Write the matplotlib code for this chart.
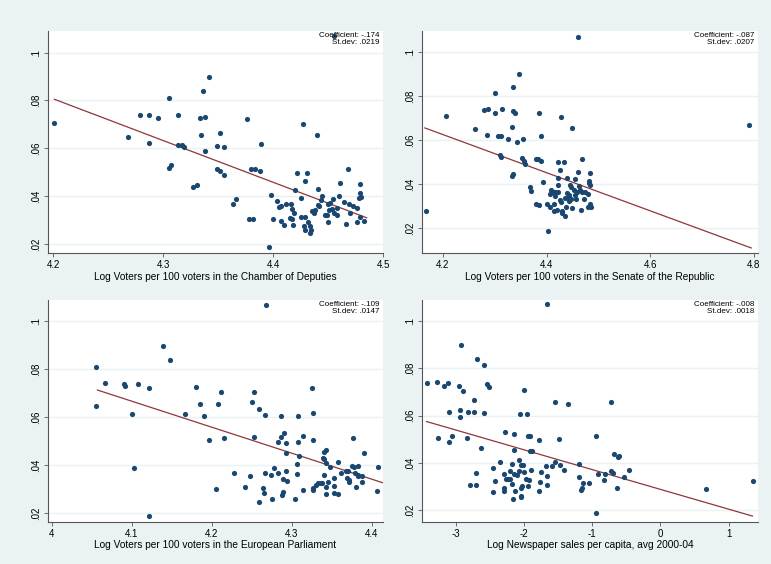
import matplotlib
matplotlib.use("Agg")
import matplotlib.pyplot as plt
import numpy as np

# Panel 1: Chamber of Deputies
x1 = [4.201,4.268,4.279,4.287,4.287,4.295,4.305,4.305,4.307,4.313,4.313,4.317,4.319,4.327,4.331,4.333,4.334,4.336,4.338,4.338,4.342,4.349,4.349,4.352,4.352,4.355,4.355,4.363,4.366,4.376,4.378,4.382,4.38,4.383,4.388,4.389,4.396,4.398,4.400,4.403,4.405,4.407,4.407,4.41,4.412,4.416,4.415,4.417,4.417,4.419,4.418,4.420,4.422,4.425,4.425,4.427,4.428,4.429,4.429,4.429,4.431,4.432,4.433,4.434,4.433,4.435,4.437,4.438,4.440,4.441,4.441,4.442,4.443,4.444,4.447,4.449,4.45,4.452,4.454,4.45,4.451,4.453,4.455,4.458,4.458,4.46,4.461,4.464,4.469,4.466,4.468,4.470,4.473,4.476,4.476,4.478,4.479,4.479,4.48,4.479,4.483,4.455]
y1 = [.0707,.0647,.0738,.074,.0623,.0725,.081,.052,.053,.0613,.0739,.0613,.0605,.0438,.0449,.0725,.0655,.0838,.073,.059,.09,.0608,.0515,.0505,.0666,.049,.0605,.0368,.0389,.0721,.0307,.0303,.0515,.0515,.0504,.0618,.0188,.0406,.0305,.0379,.0354,.0359,.0296,.0278,.0368,.0368,.0309,.0305,.0347,.033,.0281,.0425,.0499,.0391,.0315,.0703,.0277,.026,.0462,.0315,.0497,.0292,.0277,.026,.0246,.0337,.033,.0344,.0654,.0430,.0365,.0358,.0386,.0402,.0323,.0323,.0366,.0372,.039,.0291,.0344,.0347,.033,.0323,.0352,.04,.0454,.0375,.0369,.0285,.0513,.033,.0358,.0351,.0291,.0391,.0414,.045,.0397,.0312,.0296,.107]
fit1_x = [4.201, 4.485]
fit1_y = [.0805, .031]

# Panel 2: Senate
x2 = [4.168,4.205,4.261,4.28,4.287,4.285,4.3,4.3,4.307,4.312,4.310,4.312,4.313,4.325,4.333,4.333,4.335,4.336,4.335,4.339,4.343,4.346,4.353,4.355,4.357,4.359,4.368,4.369,4.38,4.383,4.38,4.385,4.385,4.389,4.39,4.393,4.401,4.406,4.403,4.407,4.409,4.41,4.414,4.417,4.415,4.42,4.415,4.417,4.422,4.423,4.423,4.422,4.425,4.426,4.427,4.428,4.43,4.43,4.434,4.436,4.437,4.436,4.440,4.44,4.442,4.444,4.443,4.445,4.447,4.448,4.45,4.45,4.453,4.455,4.457,4.454,4.459,4.461,4.462,4.46,4.465,4.469,4.467,4.468,4.472,4.474,4.480,4.482,4.484,4.482,4.483,4.480,4.485,4.483,4.79]
y2 = [.028,.0708,.0648,.0738,.0742,.0621,.0814,.0724,.0617,.0617,.0533,.0523,.074,.0605,.0658,.0438,.0444,.0839,.0733,.0725,.0589,.09,.0517,.0606,.0506,.0491,.0389,.0367,.0515,.0514,.0308,.0303,.0723,.0505,.0617,.0408,.0308,.0295,.0186,.0355,.0374,.0362,.0364,.0365,.028,.0283,.0309,.0344,.0365,.0499,.0427,.0395,.0327,.0463,.0703,.0318,.0279,.0268,.0499,.0256,.0294,.0336,.0427,.0359,.0338,.035,.0321,.0395,.0386,.0332,.0656,.0292,.0374,.0351,.0332,.0424,.0362,.0454,.0391,.107,.0374,.0365,.0283,.0514,.0332,.0362,.0356,.0415,.0395,.0406,.0452,.0294,.0295,.0311,.0668]
fit2_x = [4.165, 4.795]
fit2_y = [.0655, .011]

# Panel 3: European Parliament
x3 = [4.0556,4.0556,4.066,4.090,4.092,4.100,4.103,4.108,4.121,4.122,4.139,4.148,4.167,4.180,4.185,4.190,4.196,4.205,4.208,4.212,4.215,4.228,4.241,4.247,4.250,4.253,4.253,4.259,4.259,4.264,4.265,4.266,4.266,4.268,4.274,4.275,4.278,4.282,4.283,4.286,4.286,4.287,4.289,4.289,4.290,4.292,4.293,4.293,4.294,4.304,4.306,4.306,4.307,4.308,4.309,4.314,4.314,4.325,4.326,4.326,4.326,4.326,4.33,4.333,4.336,4.338,4.339,4.34,4.340,4.340,4.343,4.343,4.343,4.343,4.345,4.348,4.352,4.352,4.353,4.357,4.358,4.361,4.367,4.370,4.369,4.371,4.371,4.375,4.378,4.376,4.379,4.380,4.382,4.382,4.382,4.388,4.388,4.390,4.406,4.407]
y3 = [.0811,.0647,.0741,.0738,.0729,.0615,.0389,.0737,.0186,.0723,.0899,.0838,.0615,.0724,.0656,.0605,.0504,.03,.0654,.0703,.0514,.0368,.0308,.0356,.0665,.0706,.0515,.0633,.0247,.0305,.0281,.0607,.0368,.107,.036,.026,.0388,.0494,.0366,.0604,.0515,.0276,.0289,.0343,.0532,.0491,.0449,.0376,.0333,.0258,.0364,.0406,.0605,.0498,.0438,.0295,.052,.0721,.0618,.0505,.0304,.0295,.0316,.0326,.0326,.0323,.0431,.0425,.0357,.0453,.0461,.0407,.0309,.028,.033,.039,.0344,.0283,.0313,.0414,.0277,.0365,.0375,.0375,.0344,.033,.0337,.0397,.039,.0512,.0368,.0309,.0355,.036,.0397,.0353,.033,.0452,.0293,.0392]
fit3_x = [4.057, 4.428]
fit3_y = [.0713, .031]

# Panel 4: Newspaper sales
x4 = [-3.43,-3.28,-3.26,-3.18,-3.12,-3.10,-3.10,-3.05,-2.96,-2.94,-2.94,-2.92,-2.90,-2.84,-2.82,-2.79,-2.74,-2.73,-2.71,-2.71,-2.69,-2.63,-2.59,-2.58,-2.54,-2.52,-2.46,-2.45,-2.43,-2.35,-2.30,-2.30,-2.30,-2.28,-2.26,-2.23,-2.21,-2.20,-2.18,-2.18,-2.16,-2.15,-2.14,-2.14,-2.13,-2.11,-2.08,-2.07,-2.06,-2.05,-2.01,-2.05,-2.04,-2.05,-2.03,-2.00,-2.00,-1.97,-1.96,-1.94,-1.91,-1.94,-1.92,-1.91,-1.88,-1.90,-1.78,-1.78,-1.77,-1.75,-1.68,-1.67,-1.66,-1.67,-1.59,-1.55,-1.54,-1.49,-1.47,-1.42,-1.36,-1.19,-1.19,-1.17,-1.15,-1.13,-1.04,-0.94,-0.94,-0.92,-0.82,-0.81,-0.73,-0.70,-0.72,-0.68,-0.64,-0.62,-0.60,-0.53,-0.46,0.67,1.36]
y4 = [.0739,.0742,.0504,.0725,.074,.0617,.0488,.0515,.0725,.0593,.0624,.09,.0704,.0504,.0617,.0306,.0617,.0667,.0359,.0308,.084,.0462,.0609,.0813,.0733,.0722,.0275,.038,.0325,.0404,.0352,.0292,.0281,.0532,.033,.033,.033,.0366,.0397,.0311,.0247,.0455,.0521,.0355,.0279,.0348,.0365,.0413,.0607,.0391,.039,.0292,.026,.0257,.0304,.0363,.0707,.0333,.0607,.0514,.0514,.0301,.0326,.045,.045,.0372,.0281,.0495,.0319,.0363,.0386,.0343,.0306,.107,.0386,.0656,.0404,.0499,.039,.0372,.0649,.0397,.0342,.0285,.0292,.0313,.0313,.0514,.0186,.0352,.0328,.0352,.0366,.0356,.0657,.0438,.0294,.0424,.0428,.0339,.0369,.0291,.0325]
fit4_x = [-3.43, 1.35]
fit4_y = [.0575, .0175]

labels = ["Log Voters per 100 voters in the Chamber of Deputies",
          "Log Voters per 100 voters in the Senate of the Republic",
          "Log Voters per 100 voters in the European Parliament",
          "Log Newspaper sales per capita, avg 2000-04"]
coefs = ["Coefficient: -.174\nSt.dev: .0219", "Coefficient: -.087\nSt.dev: .0207",
         "Coefficient: -.109\nSt.dev: .0147", "Coefficient: -.008\nSt.dev: .0018"]
xticks = [[4.2, 4.3, 4.4, 4.5], [4.2, 4.4, 4.6, 4.8], [4.0, 4.1, 4.2, 4.3, 4.4], [-3, -2, -1, 0, 1]]
xticklabels = [["4.2", "4.3", "4.4", "4.5"], ["4.2", "4.4", "4.6", "4.8"],
               ["4", "4.1", "4.2", "4.3", "4.4"], ["-3", "-2", "-1", "0", "1"]]
yticks = [0.02, 0.04, 0.06, 0.08, 0.10]
yticklabels = [".02", ".04", ".06", ".08", ".1"]

plt.rcParams['font.family'] = ['Liberation Sans', 'DejaVu Sans']
BG = "#EAF2F3"
fig = plt.figure(figsize=(7.71, 5.64), dpi=100, facecolor=BG)
rects = [[0.062, 0.551, 0.435, 0.394], [0.547, 0.551, 0.436, 0.394],
         [0.062, 0.0745, 0.435, 0.394], [0.547, 0.0745, 0.436, 0.394]]
xlims = [(4.195, 4.5), (4.159, 4.808), (3.995, 4.414), (-3.5, 1.43)]
ylims = [(0.0162, 0.109), (0.0086, 0.1095), (0.0162, 0.109), (0.015, 0.109)]
data = [(x1, y1, fit1_x, fit1_y), (x2, y2, fit2_x, fit2_y), (x3, y3, fit3_x, fit3_y), (x4, y4, fit4_x, fit4_y)]

for i in range(4):
    ax = fig.add_axes(rects[i])
    ax.set_facecolor("white")
    x, y, fx, fy = data[i]
    ax.set_axisbelow(True)
    ax.grid(axis='y', color=BG, linewidth=1.0)
    ax.scatter(x, y, s=14, color="#1A476F", zorder=3, linewidths=0)
    ax.plot(fx, fy, color="#90353B", linewidth=0.9, zorder=2)
    ax.set_xlim(*xlims[i]); ax.set_ylim(*ylims[i])
    ax.set_xticks(xticks[i]); ax.set_xticklabels(xticklabels[i], fontsize=7)
    ax.set_yticks(yticks); ax.set_yticklabels(yticklabels, fontsize=7, rotation=90, va='center')
    for s in ['top', 'right']:
        ax.spines[s].set_visible(False)
    for s in ['left', 'bottom']:
        ax.spines[s].set_color("#555555"); ax.spines[s].set_linewidth(0.8)
    ax.tick_params(length=3, width=0.6, color="#555555", pad=2)
    ax.set_xlabel(labels[i], fontsize=7.3, labelpad=1)
    ax.text(0.99, 0.995, coefs[i], transform=ax.transAxes, ha='right', va='top', fontsize=5.8, linespacing=0.95)

fig.savefig("out.png", dpi=100, facecolor=BG)
